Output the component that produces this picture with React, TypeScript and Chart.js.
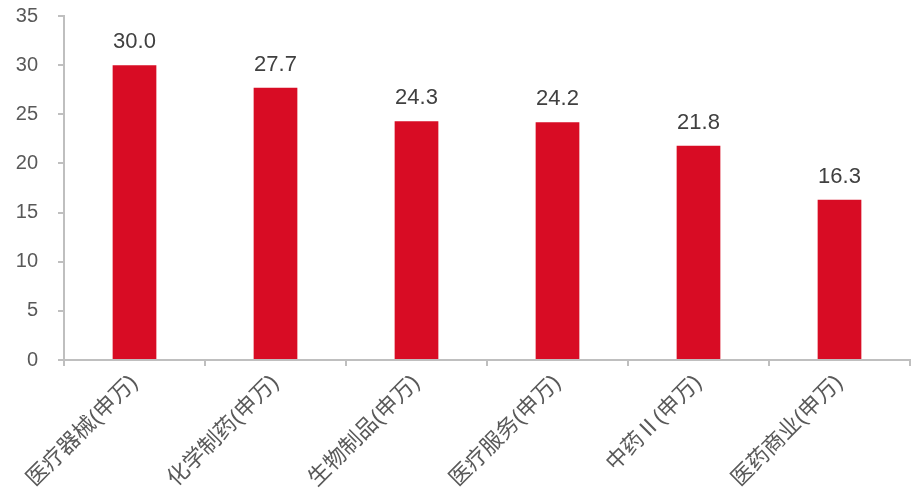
import React, { useEffect, useRef } from "react";
import { Chart, registerables } from "chart.js";

Chart.register(...registerables);

const categories = ["医疗器械(申万)", "化学制药(申万)", "生物制品(申万)", "医疗服务(申万)", "中药Ⅱ(申万)", "医药商业(申万)"];
const values = [30.0, 27.7, 24.3, 24.2, 21.8, 16.3];
const yTicks = [0, 5, 10, 15, 20, 25, 30, 35];

const FONT = "'Liberation Sans', 'Noto Sans CJK SC', sans-serif";

const dataLabels = {
  id: "dataLabels",
  afterDatasetsDraw(chart: any) {
    const ctx = chart.ctx;
    const meta = chart.getDatasetMeta(0);
    ctx.save();
    ctx.font = `22px ${FONT}`;
    ctx.fillStyle = "#404040";
    ctx.textAlign = "center";
    ctx.textBaseline = "bottom";
    meta.data.forEach((bar: any, i: number) => {
      ctx.fillText(values[i].toFixed(1), bar.x, bar.y - 12);
    });
    ctx.restore();
  },
};

export default function App() {
  const ref = useRef<HTMLCanvasElement>(null);
  useEffect(() => {
    const chart = new Chart(ref.current!, {
      type: "bar",
      data: {
        labels: categories,
        datasets: [
          {
            data: values,
            backgroundColor: "#D80C24",
            barPercentage: 0.62,
            categoryPercentage: 0.5,
          },
        ],
      },
      options: {
        animation: false,
        responsive: false,
        maintainAspectRatio: false,
        layout: { padding: { top: 16, right: 4, left: 0, bottom: 0 } },
        plugins: { legend: { display: false }, tooltip: { enabled: false } },
        scales: {
          x: {
            offset: true,
            grid: {
              offset: true,
              drawOnChartArea: false,
              drawTicks: true,
              tickLength: 6,
              color: "#BFBFBF",
              lineWidth: 2,
            },
            border: { color: "#BFBFBF", width: 2 },
            ticks: {
              color: "#595959",
              font: { family: FONT, size: 22 },
              minRotation: 45,
              maxRotation: 45,
              autoSkip: false,
              padding: 4,
            },
            afterFit(scale: any) {
              scale.height = 141;
              scale.paddingLeft = 0;
              scale.paddingRight = 0;
            },
          },
          y: {
            min: 0,
            max: 35,
            afterBuildTicks(scale: any) {
              scale.ticks = yTicks.map((v) => ({ value: v }));
            },
            grid: {
              drawOnChartArea: false,
              drawTicks: true,
              tickLength: 6,
              color: "#BFBFBF",
              lineWidth: 2,
            },
            border: { color: "#BFBFBF", width: 2 },
            ticks: {
              color: "#595959",
              font: { family: FONT, size: 20 },
              padding: 20,
            },
            afterFit(scale: any) {
              scale.width = 64;
              scale.paddingTop = 0;
              scale.paddingBottom = 0;
            },
          },
        },
      },
      plugins: [dataLabels],
    });
    return () => chart.destroy();
  }, []);
  return (
    <div style={{ position: "fixed", left: 0, top: 0, width: 914, height: 501, background: "#fff" }}>
      <canvas ref={ref} width={914} height={501} style={{ width: 914, height: 501 }} />
    </div>
  );
}
